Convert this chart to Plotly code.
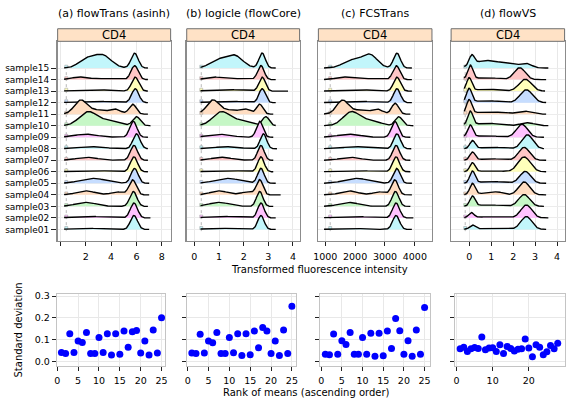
import numpy as np
import plotly.graph_objects as go

W, H = 567, 398
def px(x): return x / W
def py(y): return 1 - y / H

# ---------------- data ----------------
SAMPLES = ["sample%02d" % i for i in range(1, 16)]
FILLS = ["#c2f6fb", "#ffc2ff", "#c6f7c6", "#ffddc2", "#c6ddff", "#ffffbb", "#ffc6c6"]
PANEL_TITLES = ["(a) flowTrans (asinh)", "(b) logicle (flowCore)", "(c) FCSTrans", "(d) flowVS"]
STRIP_LABEL = "CD4"

# density components per sample (sample01 first): (location, spread, peak height in px)
asinh_comps = [
    [(5.8, 0.28, 14), (2.0, 1.0, 1.2)],
    [(5.8, 0.28, 15), (2.2, 1.2, 1.5)],
    [(5.75, 0.28, 15), (2.0, 0.8, 4)],
    [(5.7, 0.28, 15), (2.0, 0.7, 4), (4.5, 0.5, 3)],
    [(5.85, 0.28, 15), (2.6, 1.0, 5)],
    [(5.8, 0.28, 15), (2.5, 1.2, 1.3)],
    [(5.8, 0.28, 15), (2.1, 0.8, 3)],
    [(6.0, 0.28, 15), (2.5, 1.0, 2)],
    [(5.75, 0.28, 16), (2.0, 0.9, 3)],
    [(6.0, 0.3, 9), (2.2, 0.7, 14), (3.9, 0.7, 5)],
    [(5.7, 0.28, 10), (1.6, 0.5, 14), (2.9, 0.6, 4), (4.3, 0.45, 5)],
    [(5.9, 0.28, 14), (2.5, 1.2, 1.5)],
    [(5.9, 0.28, 14), (2.5, 1.2, 1.5)],
    [(5.85, 0.28, 14), (1.5, 0.6, 2.5), (3.5, 1.0, 1)],
    [(5.85, 0.28, 15), (2.0, 0.6, 8), (3.3, 0.7, 13)],
]
logicle_comps = [
    [(2.7, 0.13, 14), (1.0, 0.5, 1.2)],
    [(2.7, 0.13, 15), (1.1, 0.6, 1.5)],
    [(2.65, 0.13, 15), (1.0, 0.4, 4)],
    [(2.65, 0.13, 15), (1.0, 0.35, 4), (2.15, 0.25, 3)],
    [(2.7, 0.13, 15), (1.35, 0.5, 5)],
    [(2.7, 0.13, 15), (1.3, 0.6, 1.3)],
    [(2.7, 0.13, 15), (1.1, 0.4, 3)],
    [(2.8, 0.13, 15), (1.3, 0.5, 2)],
    [(2.65, 0.13, 16), (1.0, 0.45, 3)],
    [(2.9, 0.14, 9), (1.1, 0.35, 14), (1.95, 0.35, 5)],
    [(2.65, 0.13, 10), (0.75, 0.25, 14), (1.4, 0.3, 4), (2.05, 0.22, 5)],
    [(2.75, 0.13, 14), (1.3, 0.6, 1.5)],
    [(2.75, 0.13, 14), (1.3, 0.6, 1.5)],
    [(2.7, 0.13, 14), (0.75, 0.3, 2.5), (1.7, 0.5, 1)],
    [(2.75, 0.13, 15), (0.9, 0.3, 7), (1.6, 0.35, 13)],
]
fcstrans_comps = [
    [(3370, 115, 14), (1800, 400, 1.2)],
    [(3370, 115, 15), (1880, 480, 1.5)],
    [(3350, 115, 15), (1800, 320, 4)],
    [(3330, 115, 15), (1800, 280, 4), (2800, 200, 3)],
    [(3390, 115, 15), (2040, 400, 5)],
    [(3370, 115, 15), (2000, 480, 1.3)],
    [(3370, 115, 15), (1840, 320, 3)],
    [(3400, 115, 15), (2000, 400, 2)],
    [(3330, 115, 16), (1800, 360, 3)],
    [(3460, 120, 9), (1880, 280, 14), (2560, 280, 5)],
    [(3340, 115, 11), (1580, 200, 14), (2160, 240, 4), (2740, 180, 5)],
    [(3400, 115, 14), (2000, 480, 1.5)],
    [(3400, 115, 14), (2000, 480, 1.5)],
    [(3380, 115, 14), (1600, 240, 2.5), (2400, 400, 1)],
    [(3400, 115, 15), (1900, 300, 8), (2500, 250, 13)],
]
flowvs_comps = [
    [(0.15, 0.12, 4), (2.6, 0.25, 13), (1.0, 0.6, 1)],
    [(0.1, 0.12, 5), (2.6, 0.25, 13), (1.0, 0.6, 1.2)],
    [(0.15, 0.12, 10), (2.5, 0.25, 12), (0.9, 0.5, 1.5)],
    [(0.15, 0.12, 11), (2.5, 0.25, 13), (1.3, 0.25, 2.5), (0.7, 0.4, 1.5)],
    [(0.15, 0.12, 12), (2.55, 0.25, 12), (1.0, 0.5, 2)],
    [(0.15, 0.12, 9), (2.5, 0.28, 15), (1.0, 0.5, 1)],
    [(0.15, 0.12, 8), (2.5, 0.25, 13), (1.0, 0.5, 1.5)],
    [(0.15, 0.12, 8), (2.65, 0.25, 14), (1.0, 0.5, 1.5)],
    [(0.05, 0.12, 12), (2.4, 0.25, 13), (0.8, 0.5, 1.5)],
    [(0.05, 0.12, 14), (2.65, 0.3, 3), (0.8, 0.5, 2.5)],
    [(0.0, 0.12, 14), (2.5, 0.3, 3), (0.9, 0.6, 2.5)],
    [(0.0, 0.12, 14), (2.6, 0.28, 13), (0.8, 0.5, 2)],
    [(0.0, 0.12, 13), (2.55, 0.28, 12), (0.8, 0.5, 2)],
    [(0.05, 0.12, 14), (2.3, 0.25, 12), (0.8, 0.5, 2)],
    [(0.12, 0.12, 10), (0.7, 0.5, 7), (1.7, 0.5, 4), (2.6, 0.25, 4)],
]
curve_start = [0.3, 0.25, 960, -0.22]
spike_pos = [0.47, 0.28, 1166, -0.18]
asinh_end = [7.0, 7.1, 6.9, 7.0, 7.0, 6.9, 6.9, 6.9, 6.9, 7.1, 6.9, 6.9, 6.9, 6.9, 6.9]
logicle_end = [3.3, 3.3, 3.2, 3.5, 3.3, 3.2, 3.2, 3.35, 3.2, 3.3, 3.2, 3.3, 3.8, 3.3, 3.3]
fcstrans_end = [3900, 3950, 3850, 3900, 3900, 3850, 3850, 3880, 3850, 3950, 3850, 3900, 3900, 3900, 3900]
flowvs_end = [3.5, 3.6, 3.4, 3.5, 3.5, 3.5, 3.5, 3.4, 3.4, 3.6, 3.5, 3.5, 3.45, 3.5, 3.6]

top_ticks = [[0, 2, 4, 6, 8], [0, 1, 2, 3, 4], [1000, 2000, 3000, 4000], [0, 1, 2, 3, 4]]
top_ticktext = [["", "2", "4", "6", "8"], ["0", "1", "2", "3", "4"],
                ["1000", "2000", "3000", "4000"], ["0", "1", "2", "3", "4"]]

sd_asinh = [0.041, 0.036, 0.127, 0.041, 0.094, 0.086, 0.133, 0.036, 0.036, 0.109, 0.041, 0.127,
            0.029, 0.127, 0.032, 0.139, 0.065, 0.136, 0.142, 0.038, 0.094, 0.029, 0.144, 0.038, 0.200]
sd_logicle = [0.038, 0.036, 0.125, 0.038, 0.094, 0.085, 0.133, 0.036, 0.036, 0.109, 0.039, 0.127,
              0.027, 0.127, 0.030, 0.140, 0.062, 0.156, 0.140, 0.036, 0.094, 0.027, 0.144, 0.036, 0.253]
sd_fcstrans = [0.032, 0.030, 0.126, 0.033, 0.095, 0.077, 0.133, 0.032, 0.032, 0.110, 0.033, 0.129,
               0.023, 0.129, 0.026, 0.139, 0.059, 0.197, 0.141, 0.032, 0.095, 0.023, 0.144, 0.032, 0.247]
sd_flowvs = [0.058, 0.065, 0.045, 0.058, 0.064, 0.059, 0.112, 0.053, 0.061, 0.062, 0.045, 0.076,
             0.036, 0.068, 0.059, 0.048, 0.056, 0.058, 0.103, 0.061, 0.021, 0.076, 0.065, 0.030,
             0.044, 0.073, 0.058, 0.083]
bottom_xticks = [[0, 5, 10, 15, 20, 25]] * 3 + [[0, 10, 20]]
sd_ticks = [0.0, 0.1, 0.2, 0.3]
sd_ticktext = ["0.0", "0.1", "0.2", "0.3"]

# ---------------- layout geometry (pixels) ----------------
top_x = [(53.3, 167.7), (184.0, 298.3), (317.3, 432.3), (451.7, 566.6)]
top_y = (37.7, 239.0)
strip_top = 25.0
top_xrange = [(-0.21, 8.69), (-0.31, 4.27), (770, 4573), (-0.82, 4.34)]
top_yrange = (0.03, 17.32)
ROW_PX = 11.62

bot_x = [(52.3, 162.3), (184.3, 294.3), (319.3, 430.7), (455.7, 566.6)]
bot_y = (293.3, 366.0)
bot_xrange = [(-0.15, 25.9), (-0.15, 25.9), (-0.2, 26.4), (-0.4, 29.9)]
bot_yrange = (-0.023, 0.308)

FONT = "DejaVu Sans"
TICK_SIZE = 9.5
fig = go.Figure()

all_comps = [asinh_comps, logicle_comps, fcstrans_comps, flowvs_comps]
all_ends = [asinh_end, logicle_end, fcstrans_end, flowvs_end]

shapes = []
annotations = []
layout_axes = {}

def label(text, x, y, size, angle=0):
    annotations.append(dict(text=text, xref="paper", yref="paper", x=px(x), y=py(y),
                            showarrow=False, textangle=angle, xanchor="center", yanchor="middle",
                            font=dict(size=size, color="black", family=FONT)))

for p in range(4):
    xa = "x" if p == 0 else "x%d" % (p + 1)
    ya = "y" if p == 0 else "y%d" % (p + 1)
    shapes.append(dict(type="line", xref=xa, yref=ya, x0=spike_pos[p], x1=spike_pos[p],
                       y0=0.85, y1=15.2, line=dict(color="#b8b8b8", width=1, dash="dot"), layer="below"))
    for i in reversed(range(15)):
        base = i + 1
        xs = np.linspace(curve_start[p], all_ends[p][i], 220)
        dens = np.zeros_like(xs)
        for (m, s, h) in all_comps[p][i]:
            dens += h * np.exp(-0.5 * ((xs - m) / s) ** 2)
        ys = base + dens / ROW_PX
        col = FILLS[i % 7]
        fig.add_trace(go.Scatter(x=np.concatenate([xs, xs[::-1]]),
                                 y=np.concatenate([ys, np.full_like(xs, base)]),
                                 fill="toself", fillcolor=col, line=dict(width=0),
                                 mode="lines", hoverinfo="skip", showlegend=False,
                                 xaxis=xa, yaxis=ya))
        fig.add_trace(go.Scatter(x=[spike_pos[p]], y=[base + 0.12], mode="markers",
                                 marker=dict(symbol="square", size=3, color=col,
                                             line=dict(width=0.5, color="#999999")),
                                 hoverinfo="skip", showlegend=False, xaxis=xa, yaxis=ya))
        fig.add_trace(go.Scatter(x=xs, y=ys, mode="lines", line=dict(color="black", width=1.4),
                                 hoverinfo="skip", showlegend=False, xaxis=xa, yaxis=ya))
    x0, x1 = top_x[p]
    layout_axes["xaxis" if p == 0 else "xaxis%d" % (p + 1)] = dict(
        domain=[px(x0), px(x1)], anchor=ya, range=list(top_xrange[p]),
        tickvals=top_ticks[p], ticktext=top_ticktext[p], ticks="outside", ticklen=4,
        ticklabelstandoff=3,
        tickcolor="#222", tickfont=dict(size=TICK_SIZE, color="black", family=FONT),
        showgrid=True, gridcolor="#e8e8e8", gridwidth=1, zeroline=False,
        showline=True, mirror=True, linecolor="#8c8c8c", linewidth=1.5)
    layout_axes["yaxis" if p == 0 else "yaxis%d" % (p + 1)] = dict(
        domain=[py(top_y[1]), py(top_y[0])], anchor=xa, range=list(top_yrange),
        tickvals=list(range(1, 16)), ticktext=SAMPLES,
        ticks="outside" if p == 0 else "", ticklen=5, tickcolor="#222",
        showticklabels=(p == 0), tickfont=dict(size=9, color="black", family=FONT),
        showgrid=True, gridcolor="#ececec", gridwidth=1, zeroline=False,
        showline=True, mirror=True, linecolor="#8c8c8c", linewidth=1.5)
    shapes.append(dict(type="rect", xref="paper", yref="paper", x0=px(x0), x1=px(x1),
                       y0=py(top_y[0]), y1=py(strip_top), fillcolor="#ffe2c6",
                       line=dict(color="#6e6e6e", width=1)))
    label(STRIP_LABEL, (x0 + x1) / 2, (strip_top + top_y[0]) / 2, 11.5)
    label(PANEL_TITLES[p], (x0 + x1) / 2, 9.5, 11)

all_sd = [sd_asinh, sd_logicle, sd_fcstrans, sd_flowvs]
for p in range(4):
    k = p + 5
    xa, ya = "x%d" % k, "y%d" % k
    vals = all_sd[p]
    fig.add_trace(go.Scatter(x=list(range(1, len(vals) + 1)), y=vals, mode="markers",
                             marker=dict(color="#0000ff", size=7, line=dict(width=0)),
                             showlegend=False, xaxis=xa, yaxis=ya))
    x0, x1 = bot_x[p]
    layout_axes["xaxis%d" % k] = dict(
        domain=[px(x0), px(x1)], anchor=ya, range=list(bot_xrange[p]),
        tickvals=bottom_xticks[p], ticks="outside", ticklen=4, tickcolor="#222",
        ticklabelstandoff=1,
        tickfont=dict(size=TICK_SIZE, color="black", family=FONT),
        showgrid=True, gridcolor="#e8e8e8", zeroline=False,
        showline=True, mirror=True, linecolor="#c4c4c4", linewidth=1)
    layout_axes["yaxis%d" % k] = dict(
        domain=[py(bot_y[1]), py(bot_y[0])], anchor=xa, range=list(bot_yrange),
        tickvals=sd_ticks, ticktext=sd_ticktext, ticks="outside", ticklen=4, tickcolor="#222",
        showticklabels=(p == 0), tickfont=dict(size=TICK_SIZE, color="black", family=FONT),
        showgrid=True, gridcolor="#e8e8e8", zeroline=False,
        showline=True, mirror=True, linecolor="#c4c4c4", linewidth=1)

label("Transformed fluorescence intensity", 318, 268.5, 10)
label("Rank of means (ascending order)", 305, 392.5, 10)
label("Standard deviation", 14, 329, 10, angle=-90)

fig.update_layout(width=W, height=H, autosize=False, margin=dict(l=0, r=0, t=0, b=0),
                  paper_bgcolor="white", plot_bgcolor="white", showlegend=False,
                  font=dict(family=FONT, color="black"),
                  shapes=shapes, annotations=annotations, **layout_axes)
fig.write_html("out.html", config={"displayModeBar": False, "staticPlot": True})

# remove the default page margin so the figure sits at the window's top-left corner
with open("out.html", "r", encoding="utf-8") as f:
    html = f.read()
html = html.replace("<head>", "<head><style>html,body{margin:0;padding:0;overflow:hidden;}</style>", 1)
with open("out.html", "w", encoding="utf-8") as f:
    f.write(html)
